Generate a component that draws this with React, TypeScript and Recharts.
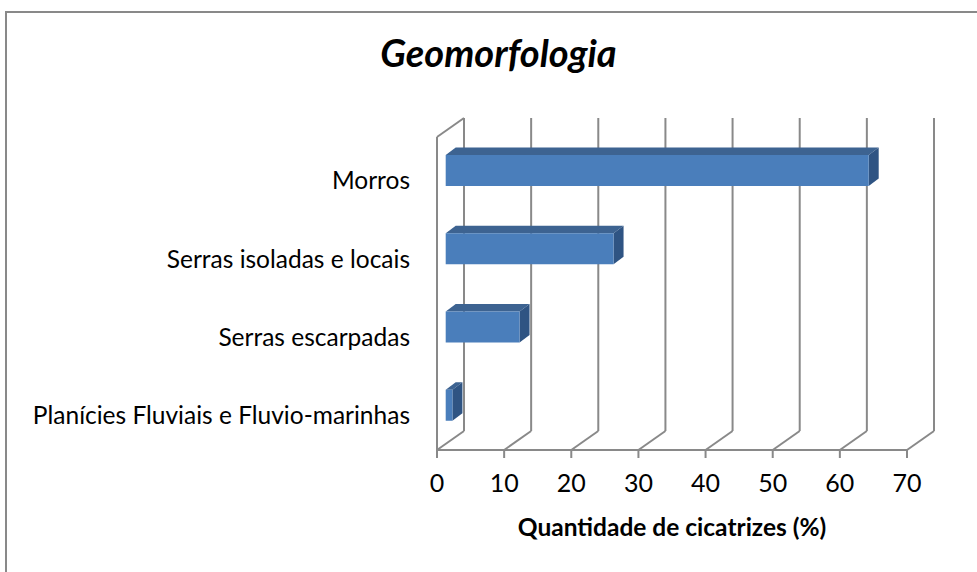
import { BarChart, Bar, XAxis, YAxis, CartesianGrid } from "recharts";

const categories = [
  "Morros",
  "Serras isoladas e locais",
  "Serras escarpadas",
  "Planícies Fluviais e Fluvio-marinhas",
];
const values = [63, 25, 11, 1];
const xTicks = [0, 10, 20, 30, 40, 50, 60, 70];

const rows = categories.map((name, i) => ({ name, value: values[i] }));

// 3D depth of the floor / back wall and of the bars
const DX = 27;
const DY = 19;
const BAR_SHIFT_X = 8.7;
const BAR_SHIFT_Y = -6;
const BAR_DX = 10;
const BAR_DY = 7.5;

const PLOT_LEFT = 437;
const GRID = "#898989";
const FONT = "Lato, 'Open Sans', sans-serif";

const GridLine = (props: any) => {
  const { x1, y1, y2 } = props;
  const isLeft = Math.abs(x1 - PLOT_LEFT) < 1;
  return (
    <g key={props.key}>
      <line x1={x1 + DX} y1={y1 - DY} x2={x1 + DX} y2={y2 - DY} stroke={GRID} strokeWidth={2} />
      <line x1={x1} y1={y2} x2={x1 + DX} y2={y2 - DY} stroke={GRID} strokeWidth={2} />
      {isLeft && (
        <>
          <line x1={x1} y1={y1} x2={x1} y2={y2} stroke={GRID} strokeWidth={2} />
          <line x1={x1} y1={y1} x2={x1 + DX} y2={y1 - DY} stroke={GRID} strokeWidth={2} />
        </>
      )}
    </g>
  );
};

const Bar3D = (props: any) => {
  const { x, y, width, height } = props;
  const fx = x + BAR_SHIFT_X;
  const fy = y + BAR_SHIFT_Y;
  const top = `${fx},${fy} ${fx + width},${fy} ${fx + width + BAR_DX},${fy - BAR_DY} ${fx + BAR_DX},${fy - BAR_DY}`;
  const side = `${fx + width},${fy} ${fx + width + BAR_DX},${fy - BAR_DY} ${fx + width + BAR_DX},${fy + height - BAR_DY} ${fx + width},${fy + height}`;
  return (
    <g>
      <polygon points={top} fill="#3d6391" />
      <polygon points={side} fill="#2f5483" />
      <rect x={fx} y={fy} width={width} height={height} fill="#4a7ebb" />
    </g>
  );
};

const CatTick = (props: any) => {
  const { x, y, payload } = props;
  return (
    <text x={x} y={y + 4.5} dy="0.36em" textAnchor="end" fontFamily={FONT} fontSize={24.5} fill="#000">
      {payload.value}
    </text>
  );
};

const NumTick = (props: any) => {
  const { x, y, payload } = props;
  return (
    <text x={x} y={y + 32} textAnchor="middle" fontFamily={FONT} fontSize={25} fill="#000">
      {payload.value}
    </text>
  );
};

export default function App() {
  return (
    <div style={{ position: "absolute", left: 0, top: 0, width: 977, height: 572, background: "#fff", overflow: "hidden" }}>
      <div
        style={{
          position: "absolute",
          left: 5,
          top: 11,
          width: 1000,
          height: 600,
          borderTop: `2px solid ${GRID}`,
          borderLeft: `2px solid ${GRID}`,
        }}
      />
      <div
        style={{
          position: "absolute",
          left: 0,
          top: 32,
          width: 997,
          textAlign: "center",
          fontFamily: FONT,
          fontWeight: 700,
          fontStyle: "italic",
          fontSize: 38,
          lineHeight: "40px",
        }}
      >
        Geomorfologia
      </div>
      <div style={{ position: "absolute", left: 0, top: 0 }}>
        <BarChart
          width={977}
          height={572}
          data={rows}
          layout="vertical"
          margin={{ top: 137, right: 70, bottom: 0, left: 0 }}
        >
          <CartesianGrid horizontal={false} vertical={GridLine} />
          <XAxis
            type="number"
            domain={[0, 70]}
            ticks={xTicks}
            height={122}
            axisLine={{ stroke: GRID, strokeWidth: 2 }}
            tickLine={{ stroke: GRID, strokeWidth: 2 }}
            tickSize={8}
            tick={NumTick}
            label={{
              value: "Quantidade de cicatrizes (%)",
              position: "insideBottom",
              offset: 36,
              style: { fontFamily: FONT, fontWeight: 700, fontSize: 24.5, fill: "#000" },
            }}
          />
          <YAxis
            type="category"
            dataKey="name"
            width={437}
            axisLine={false}
            tickLine={false}
            tickSize={0}
            tickMargin={27}
            tick={CatTick}
          />
          <Bar dataKey="value" barSize={31} shape={Bar3D} isAnimationActive={false} />
        </BarChart>
      </div>
    </div>
  );
}
